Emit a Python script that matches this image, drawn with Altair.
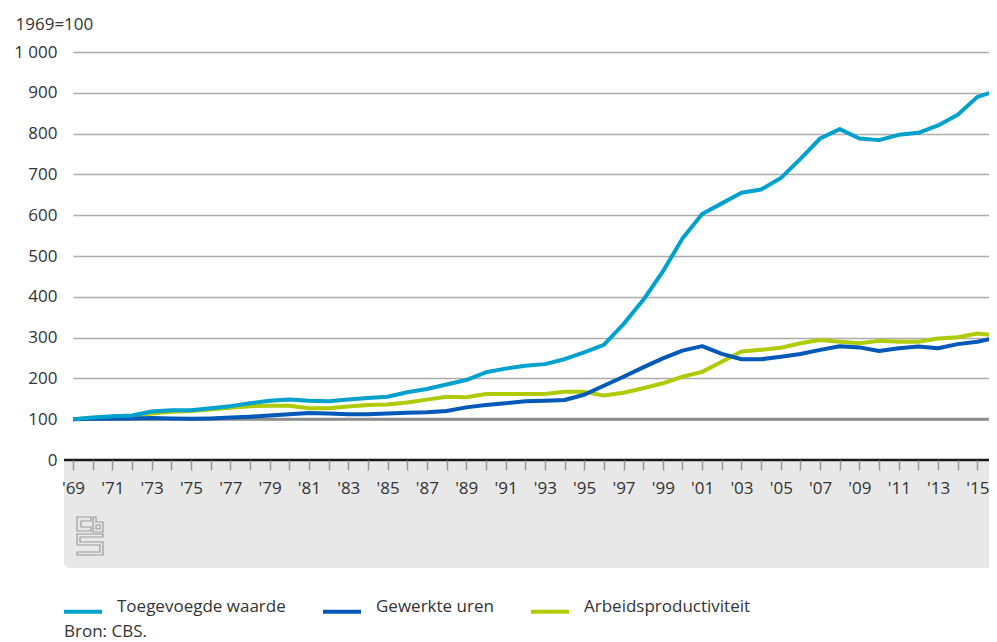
import altair as alt
import pandas as pd

years = list(range(1969, 2017))
tick_years = list(range(1969, 2016))

toegevoegde_waarde = [100, 104, 107, 109, 119, 122, 122, 127, 132, 139, 145,
                      148, 145, 144, 148, 152, 155, 166, 174, 185, 196,
                      215, 224, 231, 235, 247, 264, 282, 333, 392, 462,
                      543, 603, 629, 655, 663, 691, 738, 788, 811, 788,
                      784, 797, 802, 820, 846, 890, 905]

gewerkte_uren = [100, 101, 101, 102, 103, 102, 101, 102, 104, 106, 109,
                 112, 115, 114, 112, 112, 114, 116, 117, 120, 129,
                 135, 139, 144, 145, 147, 160, 182, 204, 227, 249,
                 268, 279, 260, 247, 247, 253, 260, 270, 279, 276,
                 267, 274, 278, 274, 284, 290, 300]

arbeidsproductiviteit = [100, 103, 106, 108, 114, 118, 120, 124, 128, 132, 133,
                         133, 127, 127, 131, 135, 136, 141, 148, 155, 154,
                         162, 162, 162, 162, 167, 167, 158, 165, 176, 188,
                         204, 216, 241, 266, 270, 275, 286, 294, 290, 286,
                         292, 290, 290, 298, 301, 310, 305]

series_names = ["Toegevoegde waarde", "Gewerkte uren", "Arbeidsproductiviteit"]
series_colors = ["#00a1cd", "#0058b8", "#afcb05"]
y_ticks = [0, 100, 200, 300, 400, 500, 600, 700, 800, 900, 1000]

FONT = "Open Sans"
TXT = "#333333"
W, H = 916, 408

rows = []
for name, vals in [("Arbeidsproductiviteit", arbeidsproductiviteit),
                   ("Gewerkte uren", gewerkte_uren),
                   ("Toegevoegde waarde", toegevoegde_waarde)]:
    for yr, v in zip(years, vals):
        rows.append({"jaar": yr, "waarde": v, "reeks": name})
df = pd.DataFrame(rows)

# the view is cut just before the last year, as in the original
x_scale = alt.Scale(domain=[1969, 2015.59], nice=False, zero=False)
y_scale = alt.Scale(domain=[0, 1000], nice=False)

one = pd.DataFrame({"a": [0]})

band = alt.Chart(one).mark_rect(color="#e8e8e8", cornerRadiusBottomLeft=6).encode(
    x=alt.value(-9), x2=alt.value(W), y=alt.value(H), y2=alt.value(H + 108)
)

logo_path = (
    "M-0.684,-1H0.053V-0.789H-0.474V-0.474H0.053V-0.263H-0.684Z"
    "M0.158,-1H0.316V-0.737H0.684V-0.211H0.158Z"
    "M0.316,-0.579H0.526V-0.368H0.316Z"
    "M-0.684,-0.105H0.684V0.053H-0.526V0.316H0.684V1H-0.684V0.842H0.526V0.474H-0.684Z"
)
logo = alt.Chart(one).mark_point(
    shape=logo_path, size=1444, filled=False, stroke="#9a9a9a", strokeWidth=1.2, opacity=1
).encode(x=alt.value(17), y=alt.value(484))

base100 = alt.Chart(pd.DataFrame({"v": [100]})).mark_rule(
    color="#8c8c8c", strokeWidth=3
).encode(y=alt.Y("v:Q", scale=y_scale))

zero_line = alt.Chart(pd.DataFrame({"v": [0]})).mark_rule(
    color="#1a1a1a", strokeWidth=2.5
).encode(y=alt.Y("v:Q", scale=y_scale), x=alt.value(-9), x2=alt.value(W))

lines = alt.Chart(df).mark_line(strokeWidth=4, strokeJoin="round", clip=True).encode(
    x=alt.X(
        "jaar:Q", scale=x_scale, title=None,
        axis=alt.Axis(
            values=tick_years, grid=False, domain=False, tickSize=10, tickColor="#999999",
            tickWidth=1.5, labelPadding=10, labelFontSize=17, labelFont=FONT,
            labelColor=TXT, labelFlush=False, labelOverlap=False, labelBound=False,
            labelExpr="datum.value % 2 == 1 ? \"'\" + substring(toString(datum.value), 2, 4) : ''",
            zindex=1,
        ),
    ),
    y=alt.Y(
        "waarde:Q", scale=y_scale,
        axis=alt.Axis(
            values=y_ticks, grid=True, gridColor="#ababab", gridWidth=1.5,
            domain=False, ticks=False, tickSize=0, labelPadding=16,
            labelFontSize=17, labelFont=FONT, labelColor=TXT,
            labelExpr="datum.value == 1000 ? '1 000' : toString(datum.value)",
            title="1969=100", titleAngle=0, titleAlign="left", titleBaseline="middle",
            titleX=-58, titleY=-28, titleFontSize=17, titleFont=FONT,
            titleFontWeight="normal", titleColor=TXT,
        ),
    ),
    color=alt.Color(
        "reeks:N",
        scale=alt.Scale(domain=series_names, range=series_colors),
        legend=alt.Legend(
            title=None, orient="none", legendX=-11, legendY=534, direction="horizontal",
            columns=3, symbolType="M-1,0.24L1,0.24", symbolSize=1444, symbolStrokeWidth=4,
            labelFontSize=17, labelFont=FONT, labelColor=TXT, labelOffset=13,
            columnPadding=29, padding=0, labelLimit=400,
        ),
    ),
)

bron = alt.Chart(one).mark_text(
    text="Bron: CBS.", align="left", baseline="alphabetic", fontSize=17, font=FONT, color=TXT
).encode(x=alt.value(-9), y=alt.value(585))

chart = alt.layer(band, logo, base100, zero_line, lines, bron).properties(
    width=W, height=H,
    autosize=alt.AutoSizeParams(type="none"),
    padding={"left": 65, "top": 44, "right": 0, "bottom": 182},
).configure_view(stroke=None)

chart.save("out.html", embed_options={"renderer": "svg", "actions": False})
